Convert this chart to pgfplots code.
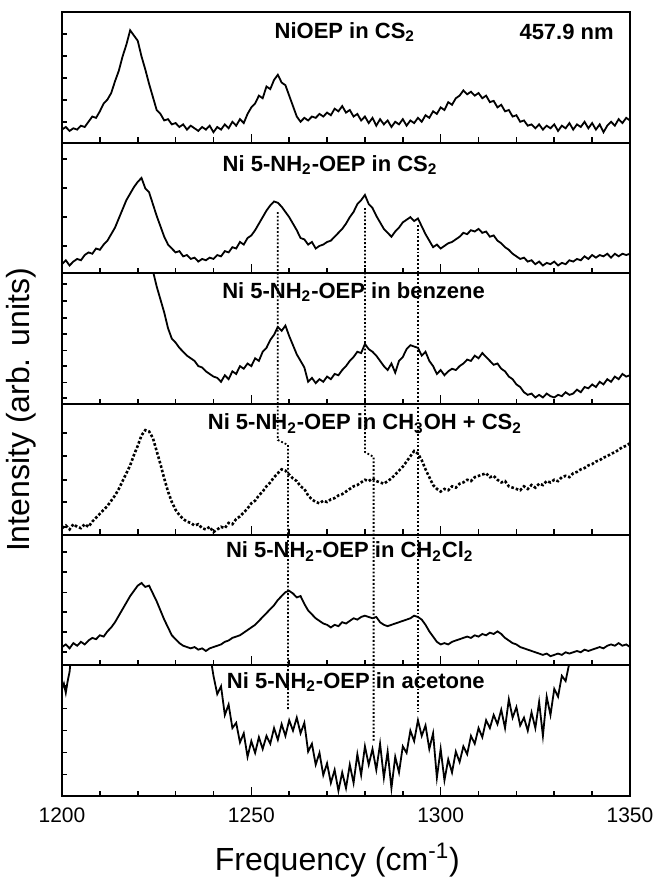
\documentclass[border=0pt]{standalone}
\usepackage{fontspec}
\setmainfont{Liberation Sans}
\usepackage{pgfplots}
\pgfplotsset{compat=1.18}

\pgfplotsset{
  panel/.style={
    scale only axis, width=284pt, height=65.33pt,
    anchor=north west,
    xmin=1200, xmax=1350, ymin=0, ymax=1,
    axis line style={line width=0.9pt},
    xtick={1200,1250,1300,1350},
    minor xtick={1210,1220,1230,1240,1260,1270,1280,1290,1310,1320,1330,1340},
    xtick pos=bottom, ytick pos=left, tick align=inside,
    ytick={-5},
    major tick length=4.5pt, minor tick length=2.6pt,
    every tick/.style={black, line width=0.8pt},
    xticklabels={}, yticklabels={},
  },
  spec/.style={black, line width=0.9pt, mark=none},
}
\tikzset{ttl/.style={font=\bfseries\fontsize{11}{13}\selectfont, inner sep=0pt}}

\begin{document}
\begin{tikzpicture}
\path[use as bounding box] (-31pt,6pt) rectangle (297pt,-434pt);

% panel 1: NiOEP in CS2
\begin{axis}[panel, at={(0,0)}, minor ytick={0.16,0.327,0.494,0.665,0.83}]
\addplot[spec] coordinates {
(1200,0.10)(1201,0.12)(1202,0.09)(1203,0.11)(1204,0.10)(1205,0.13)(1206,0.12)(1207,0.16)(1208,0.20)(1209,0.19)
(1210,0.24)(1211,0.30)(1212,0.33)(1213,0.38)(1214,0.47)(1215,0.55)(1216,0.66)(1217,0.75)(1218,0.86)(1219,0.82)
(1220,0.78)(1221,0.66)(1222,0.56)(1223,0.45)(1224,0.35)(1225,0.25)(1226,0.22)(1227,0.17)(1228,0.18)(1229,0.14)
(1230,0.15)(1231,0.12)(1232,0.14)(1233,0.10)(1234,0.13)(1235,0.11)(1236,0.09)(1237,0.12)(1238,0.10)(1239,0.13)
(1240,0.08)(1241,0.12)(1242,0.10)(1243,0.14)(1244,0.11)(1245,0.16)(1246,0.13)(1247,0.18)(1248,0.15)(1249,0.22)
(1250,0.27)(1251,0.30)(1252,0.36)(1253,0.34)(1254,0.43)(1255,0.41)(1256,0.48)(1257,0.52)(1258,0.46)(1259,0.44)
(1260,0.36)(1261,0.28)(1262,0.20)(1263,0.16)(1264,0.19)(1265,0.17)(1266,0.20)(1267,0.19)(1268,0.22)(1269,0.20)
(1270,0.23)(1271,0.21)(1272,0.26)(1273,0.24)(1274,0.28)(1275,0.23)(1276,0.25)(1277,0.20)(1278,0.22)(1279,0.17)
(1280,0.20)(1281,0.15)(1282,0.19)(1283,0.13)(1284,0.18)(1285,0.14)(1286,0.17)(1287,0.12)(1288,0.16)(1289,0.14)
(1290,0.18)(1291,0.13)(1292,0.17)(1293,0.15)(1294,0.19)(1295,0.16)(1296,0.21)(1297,0.19)(1298,0.24)(1299,0.22)
(1300,0.27)(1301,0.25)(1302,0.31)(1303,0.29)(1304,0.34)(1305,0.36)(1306,0.40)(1307,0.37)(1308,0.39)(1309,0.36)
(1310,0.38)(1311,0.34)(1312,0.36)(1313,0.31)(1314,0.32)(1315,0.27)(1316,0.29)(1317,0.24)(1318,0.25)(1319,0.20)
(1320,0.21)(1321,0.16)(1322,0.17)(1323,0.13)(1324,0.14)(1325,0.11)(1326,0.14)(1327,0.10)(1328,0.13)(1329,0.11)
(1330,0.14)(1331,0.09)(1332,0.13)(1333,0.11)(1334,0.15)(1335,0.10)(1336,0.14)(1337,0.12)(1338,0.16)(1339,0.11)
(1340,0.15)(1341,0.10)(1342,0.14)(1343,0.08)(1344,0.13)(1345,0.16)(1346,0.13)(1347,0.18)(1348,0.15)(1349,0.19)
(1350,0.17)};
\node[ttl] at (axis cs:1274.7,0.847) {NiOEP in CS\textsubscript{2}};
\node[ttl, anchor=east] at (axis cs:1345.8,0.847) {457.9 nm};
\end{axis}

% panel 2: Ni 5-NH2-OEP in CS2
\begin{axis}[panel, at={(0,-65.33pt)}, minor ytick={0.21,0.43,0.655,0.875}]
\addplot[spec] coordinates {
(1200,0.07)(1201,0.10)(1202,0.06)(1203,0.09)(1204,0.11)(1205,0.10)(1206,0.14)(1207,0.16)(1208,0.15)(1209,0.19)
(1210,0.18)(1211,0.22)(1212,0.25)(1213,0.30)(1214,0.35)(1215,0.42)(1216,0.49)(1217,0.56)(1218,0.61)(1219,0.66)
(1220,0.70)(1221,0.73)(1222,0.65)(1223,0.62)(1224,0.53)(1225,0.44)(1226,0.36)(1227,0.28)(1228,0.22)(1229,0.19)
(1230,0.16)(1231,0.17)(1232,0.13)(1233,0.14)(1234,0.11)(1235,0.12)(1236,0.09)(1237,0.11)(1238,0.10)(1239,0.12)
(1240,0.11)(1241,0.14)(1242,0.13)(1243,0.17)(1244,0.16)(1245,0.20)(1246,0.19)(1247,0.24)(1248,0.22)(1249,0.27)
(1250,0.29)(1251,0.33)(1252,0.38)(1253,0.43)(1254,0.48)(1255,0.52)(1256,0.55)(1257,0.54)(1258,0.51)(1259,0.47)
(1260,0.43)(1261,0.38)(1262,0.33)(1263,0.27)(1264,0.26)(1265,0.22)(1266,0.24)(1267,0.19)(1268,0.21)(1269,0.22)
(1270,0.24)(1271,0.25)(1272,0.28)(1273,0.31)(1274,0.34)(1275,0.38)(1276,0.43)(1277,0.47)(1278,0.53)(1279,0.56)
(1280,0.60)(1281,0.53)(1282,0.50)(1283,0.44)(1284,0.39)(1285,0.34)(1286,0.31)(1287,0.28)(1288,0.32)(1289,0.35)
(1290,0.39)(1291,0.41)(1292,0.43)(1293,0.40)(1294,0.42)(1295,0.36)(1296,0.30)(1297,0.25)(1298,0.20)(1299,0.22)
(1300,0.19)(1301,0.21)(1302,0.23)(1303,0.24)(1304,0.26)(1305,0.28)(1306,0.31)(1307,0.30)(1308,0.33)(1309,0.32)
(1310,0.34)(1311,0.31)(1312,0.32)(1313,0.28)(1314,0.29)(1315,0.25)(1316,0.23)(1317,0.20)(1318,0.18)(1319,0.15)
(1320,0.13)(1321,0.11)(1322,0.12)(1323,0.09)(1324,0.10)(1325,0.07)(1326,0.09)(1327,0.06)(1328,0.08)(1329,0.07)
(1330,0.09)(1331,0.06)(1332,0.08)(1333,0.07)(1334,0.10)(1335,0.09)(1336,0.11)(1337,0.10)(1338,0.13)(1339,0.11)
(1340,0.14)(1341,0.12)(1342,0.14)(1343,0.13)(1344,0.15)(1345,0.12)(1346,0.15)(1347,0.13)(1348,0.15)(1349,0.14)
(1350,0.15)};
\node[ttl] at (axis cs:1270.8,0.83) {Ni 5-NH\textsubscript{2}-OEP in CS\textsubscript{2}};
\end{axis}

% panel 3: benzene
\begin{axis}[panel, at={(0,-130.67pt)}, minor ytick={0.046,0.166,0.29,0.41,0.536,0.66,0.79,0.92}]
\addplot[spec] coordinates {
(1223,1.15)(1224,1.02)(1225,0.90)(1226,0.80)(1227,0.70)(1228,0.58)(1229,0.50)
(1230,0.47)(1231,0.43)(1232,0.40)(1233,0.37)(1234,0.35)(1235,0.33)(1236,0.29)(1237,0.28)(1238,0.25)(1239,0.23)
(1240,0.21)(1241,0.20)(1242,0.17)(1243,0.22)(1244,0.19)(1245,0.25)(1246,0.23)(1247,0.29)(1248,0.27)(1249,0.31)
(1250,0.29)(1251,0.35)(1252,0.33)(1253,0.40)(1254,0.43)(1255,0.49)(1256,0.53)(1257,0.59)(1258,0.56)(1259,0.60)
(1260,0.52)(1261,0.45)(1262,0.38)(1263,0.33)(1264,0.28)(1265,0.17)(1266,0.20)(1267,0.16)(1268,0.19)(1269,0.17)
(1270,0.21)(1271,0.19)(1272,0.23)(1273,0.22)(1274,0.26)(1275,0.29)(1276,0.33)(1277,0.36)(1278,0.40)(1279,0.39)
(1280,0.46)(1281,0.42)(1282,0.40)(1283,0.37)(1284,0.33)(1285,0.29)(1286,0.26)(1287,0.31)(1288,0.24)(1289,0.33)
(1290,0.36)(1291,0.42)(1292,0.45)(1293,0.44)(1294,0.43)(1295,0.37)(1296,0.40)(1297,0.33)(1298,0.29)(1299,0.23)
(1300,0.26)(1301,0.22)(1302,0.25)(1303,0.27)(1304,0.26)(1305,0.29)(1306,0.31)(1307,0.34)(1308,0.33)(1309,0.37)
(1310,0.35)(1311,0.39)(1312,0.36)(1313,0.33)(1314,0.30)(1315,0.31)(1316,0.27)(1317,0.25)(1318,0.21)(1319,0.19)
(1320,0.15)(1321,0.13)(1322,0.09)(1323,0.07)(1324,0.08)(1325,0.05)(1326,0.07)(1327,0.05)(1328,0.08)(1329,0.06)
(1330,0.05)(1331,0.07)(1332,0.06)(1333,0.09)(1334,0.07)(1335,0.08)(1336,0.11)(1337,0.09)(1338,0.13)(1339,0.12)
(1340,0.15)(1341,0.13)(1342,0.17)(1343,0.15)(1344,0.19)(1345,0.17)(1346,0.21)(1347,0.19)(1348,0.23)(1349,0.21)
(1350,0.22)};
\node[ttl] at (axis cs:1277,0.855) {Ni 5-NH\textsubscript{2}-OEP in benzene};
\end{axis}

% panel 4: CH3OH + CS2 (dotted trace)
\begin{axis}[panel, at={(0,-196pt)}, minor ytick={0.057,0.25,0.42,0.6,0.78}]
\addplot[black, line width=1.3pt, densely dotted, mark=none] coordinates {
(1200,0.05)(1201,0.07)(1202,0.04)(1203,0.08)(1204,0.06)(1205,0.05)(1206,0.08)(1207,0.06)(1208,0.10)(1209,0.13)
(1210,0.16)(1211,0.19)(1212,0.22)(1213,0.26)(1214,0.30)(1215,0.35)(1216,0.41)(1217,0.47)(1218,0.53)(1219,0.61)
(1220,0.68)(1221,0.76)(1222,0.80)(1223,0.79)(1224,0.74)(1225,0.64)(1226,0.54)(1227,0.43)(1228,0.33)(1229,0.25)
(1230,0.19)(1231,0.15)(1232,0.12)(1233,0.10)(1234,0.09)(1235,0.07)(1236,0.08)(1237,0.05)(1238,0.04)(1239,0.06)
(1240,0.02)(1241,0.04)(1242,0.06)(1243,0.05)(1244,0.09)(1245,0.08)(1246,0.12)(1247,0.14)(1248,0.17)(1249,0.20)
(1250,0.24)(1251,0.26)(1252,0.30)(1253,0.33)(1254,0.37)(1255,0.40)(1256,0.44)(1257,0.47)(1258,0.50)(1259,0.49)
(1260,0.46)(1261,0.43)(1262,0.41)(1263,0.37)(1264,0.35)(1265,0.30)(1266,0.27)(1267,0.25)(1268,0.24)(1269,0.26)
(1270,0.25)(1271,0.27)(1272,0.28)(1273,0.30)(1274,0.31)(1275,0.33)(1276,0.35)(1277,0.37)(1278,0.38)(1279,0.40)
(1280,0.42)(1281,0.41)(1282,0.43)(1283,0.41)(1284,0.40)(1285,0.39)(1286,0.41)(1287,0.43)(1288,0.46)(1289,0.49)
(1290,0.52)(1291,0.56)(1292,0.60)(1293,0.64)(1294,0.62)(1295,0.57)(1296,0.50)(1297,0.44)(1298,0.38)(1299,0.35)
(1300,0.33)(1301,0.35)(1302,0.34)(1303,0.37)(1304,0.36)(1305,0.39)(1306,0.40)(1307,0.42)(1308,0.41)(1309,0.44)
(1310,0.45)(1311,0.46)(1312,0.47)(1313,0.44)(1314,0.45)(1315,0.42)(1316,0.40)(1317,0.41)(1318,0.37)(1319,0.36)
(1320,0.35)(1321,0.34)(1322,0.37)(1323,0.35)(1324,0.38)(1325,0.36)(1326,0.39)(1327,0.38)(1328,0.41)(1329,0.40)
(1330,0.42)(1331,0.41)(1332,0.44)(1333,0.45)(1334,0.44)(1335,0.47)(1336,0.48)(1337,0.50)(1338,0.51)(1339,0.53)
(1340,0.54)(1341,0.56)(1342,0.57)(1343,0.59)(1344,0.60)(1345,0.62)(1346,0.63)(1347,0.65)(1348,0.67)(1349,0.68)
(1350,0.70)};
\node[ttl] at (axis cs:1280,0.85) {Ni 5-NH\textsubscript{2}-OEP in CH\textsubscript{3}OH + CS\textsubscript{2}};
\end{axis}

% panel 5: CH2Cl2
\begin{axis}[panel, at={(0,-261.33pt)}, minor ytick={0.10,0.255,0.408,0.556,0.714,0.867}]
\addplot[spec] coordinates {
(1200,0.14)(1201,0.16)(1202,0.13)(1203,0.17)(1204,0.15)(1205,0.18)(1206,0.16)(1207,0.19)(1208,0.21)(1209,0.20)
(1210,0.23)(1211,0.22)(1212,0.26)(1213,0.29)(1214,0.33)(1215,0.38)(1216,0.43)(1217,0.48)(1218,0.53)(1219,0.57)
(1220,0.61)(1221,0.63)(1222,0.60)(1223,0.61)(1224,0.55)(1225,0.49)(1226,0.42)(1227,0.35)(1228,0.29)(1229,0.23)
(1230,0.20)(1231,0.17)(1232,0.15)(1233,0.14)(1234,0.13)(1235,0.14)(1236,0.12)(1237,0.13)(1238,0.11)(1239,0.13)
(1240,0.14)(1241,0.15)(1242,0.16)(1243,0.18)(1244,0.19)(1245,0.21)(1246,0.22)(1247,0.23)(1248,0.25)(1249,0.27)
(1250,0.29)(1251,0.31)(1252,0.34)(1253,0.37)(1254,0.40)(1255,0.43)(1256,0.46)(1257,0.50)(1258,0.53)(1259,0.56)
(1260,0.57)(1261,0.55)(1262,0.52)(1263,0.53)(1264,0.47)(1265,0.42)(1266,0.39)(1267,0.36)(1268,0.34)(1269,0.32)
(1270,0.31)(1271,0.29)(1272,0.31)(1273,0.30)(1274,0.33)(1275,0.32)(1276,0.34)(1277,0.36)(1278,0.35)(1279,0.37)
(1280,0.38)(1281,0.37)(1282,0.36)(1283,0.37)(1284,0.33)(1285,0.31)(1286,0.30)(1287,0.31)(1288,0.32)(1289,0.33)
(1290,0.34)(1291,0.35)(1292,0.36)(1293,0.38)(1294,0.37)(1295,0.35)(1296,0.31)(1297,0.26)(1298,0.22)(1299,0.18)
(1300,0.16)(1301,0.17)(1302,0.16)(1303,0.18)(1304,0.19)(1305,0.20)(1306,0.21)(1307,0.22)(1308,0.21)(1309,0.23)
(1310,0.22)(1311,0.24)(1312,0.23)(1313,0.25)(1314,0.24)(1315,0.26)(1316,0.24)(1317,0.21)(1318,0.19)(1319,0.17)
(1320,0.16)(1321,0.14)(1322,0.13)(1323,0.12)(1324,0.11)(1325,0.10)(1326,0.09)(1327,0.08)(1328,0.09)(1329,0.07)
(1330,0.08)(1331,0.09)(1332,0.08)(1333,0.10)(1334,0.09)(1335,0.10)(1336,0.11)(1337,0.10)(1338,0.12)(1339,0.11)
(1340,0.12)(1341,0.13)(1342,0.14)(1343,0.13)(1344,0.15)(1345,0.16)(1346,0.15)(1347,0.17)(1348,0.15)(1349,0.16)
(1350,0.14)};
\node[ttl] at (axis cs:1276,0.87) {Ni 5-NH\textsubscript{2}-OEP in CH\textsubscript{2}Cl\textsubscript{2}};
\end{axis}

% panel 6: acetone
\begin{axis}[panel, at={(0,-326.67pt)}, minor ytick={0.164,0.333,0.50,0.67,0.84},
  xticklabels={1200,1250,1300,1350},
  xticklabel style={font=\fontsize{10.5}{12}\selectfont, yshift=-2.5pt}]
\addplot[spec] coordinates {
(1200,0.82)(1200.5,0.86)(1201,0.79)(1201.5,0.88)(1202,0.95)(1202.5,1.10)};
\addplot[spec] coordinates {
(1239,1.10)
(1240,0.92)(1241,0.78)(1242,0.84)(1243,0.62)(1244,0.70)(1245,0.52)(1246,0.56)(1247,0.41)(1248,0.48)(1249,0.30)
(1250,0.42)(1251,0.33)(1252,0.45)(1253,0.36)(1254,0.46)(1255,0.40)(1256,0.52)(1257,0.43)(1258,0.55)(1259,0.46)
(1260,0.58)(1261,0.50)(1262,0.60)(1263,0.48)(1264,0.56)(1265,0.34)(1266,0.40)(1267,0.24)(1268,0.33)(1269,0.16)
(1270,0.25)(1271,0.10)(1272,0.20)(1273,0.04)(1274,0.18)(1275,0.06)(1276,0.24)(1277,0.10)(1278,0.32)(1279,0.16)
(1280,0.38)(1281,0.24)(1282,0.36)(1283,0.20)(1284,0.40)(1285,0.14)(1286,0.34)(1287,0.06)(1288,0.30)(1289,0.18)
(1290,0.38)(1291,0.33)(1292,0.50)(1293,0.42)(1294,0.58)(1295,0.46)(1296,0.54)(1297,0.36)(1298,0.48)(1299,0.14)
(1300,0.36)(1301,0.12)(1302,0.28)(1303,0.18)(1304,0.34)(1305,0.26)(1306,0.38)(1307,0.32)(1308,0.46)(1309,0.40)
(1310,0.52)(1311,0.45)(1312,0.58)(1313,0.52)(1314,0.62)(1315,0.55)(1316,0.66)(1317,0.52)(1318,0.74)(1319,0.60)
(1320,0.68)(1321,0.54)(1322,0.60)(1323,0.50)(1324,0.64)(1325,0.52)(1326,0.72)(1327,0.46)(1328,0.76)(1329,0.62)
(1330,0.82)(1331,0.76)(1332,0.92)(1333,0.88)(1334,1.02)(1335,1.12)};
\node[ttl] at (axis cs:1277.6,0.87) {Ni 5-NH\textsubscript{2}-OEP in acetone};
\end{axis}

% dotted guide lines across the panels (y in pixel rows from the bottom)
\begin{axis}[scale only axis, width=284pt, height=392pt, at={(0,0)}, anchor=north west,
  xmin=1200, xmax=1350, ymin=0, ymax=784, hide axis]
\addplot[black, line width=0.9pt, densely dotted] coordinates {(1257,584)(1257,356)(1259.7,351)(1259.7,86)};
\addplot[black, line width=0.9pt, densely dotted] coordinates {(1280,588)(1280,344)(1282.3,339)(1282.3,54)};
\addplot[black, line width=0.9pt, densely dotted] coordinates {(1294,571)(1294,84)};
\end{axis}

\node[rotate=90, font=\fontsize{16}{19}\selectfont] at (-20.5pt,-199pt) {Intensity (arb. units)};
\node[font=\fontsize{16}{19}\selectfont] at (137.7pt,-424pt) {Frequency (cm\textsuperscript{-1})};
\end{tikzpicture}
\end{document}
